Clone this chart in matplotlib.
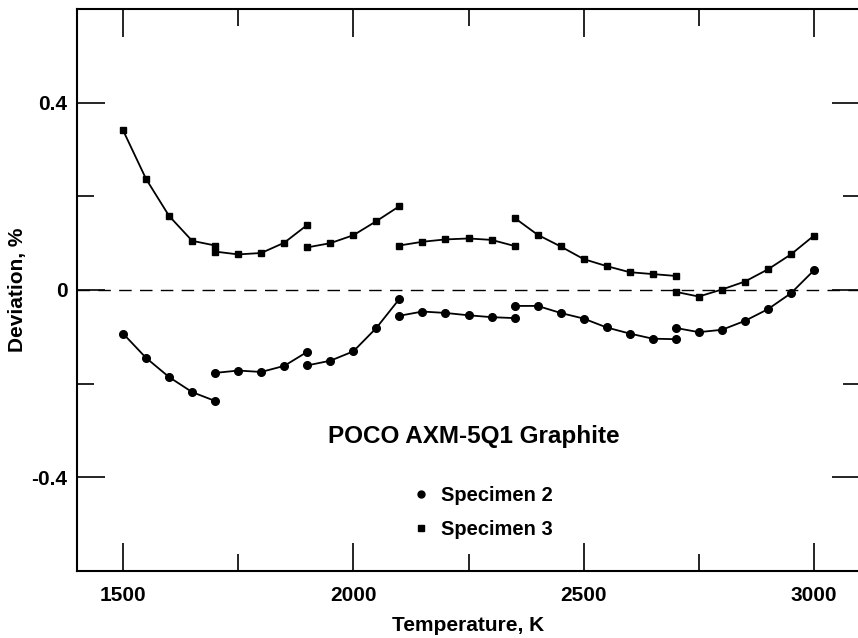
import matplotlib as mpl
import matplotlib.pyplot as plt
from matplotlib.lines import Line2D
from matplotlib.ticker import MultipleLocator

#######
# Data, each run is a separate segment

spec2_T = [
    [1500, 1550, 1600, 1650, 1700],
    [1700, 1750, 1800, 1850, 1900],
    [1900, 1950, 2000, 2050, 2100],
    [2100, 2150, 2200, 2250, 2300, 2350],
    [2350, 2400, 2450, 2500, 2550, 2600, 2650, 2700],
    [2700, 2750, 2800, 2850, 2900, 2950, 3000],
]
spec2_dev = [
    [-0.093, -0.145, -0.186, -0.218, -0.237],
    [-0.177, -0.172, -0.175, -0.162, -0.132],
    [-0.161, -0.151, -0.131, -0.081, -0.019],
    [-0.055, -0.046, -0.049, -0.054, -0.058, -0.060],
    [-0.034, -0.034, -0.049, -0.061, -0.080, -0.093, -0.104, -0.105],
    [-0.081, -0.090, -0.085, -0.066, -0.041, -0.007, 0.042],
]

spec3_T = [
    [1500, 1550, 1600, 1650, 1700],
    [1700, 1750, 1800, 1850, 1900],
    [1900, 1950, 2000, 2050, 2100],
    [2100, 2150, 2200, 2250, 2300, 2350],
    [2350, 2400, 2450, 2500, 2550, 2600, 2650, 2700],
    [2700, 2750, 2800, 2850, 2900, 2950, 3000],
]
spec3_dev = [
    [0.341, 0.237, 0.158, 0.105, 0.095],
    [0.082, 0.076, 0.079, 0.101, 0.139],
    [0.091, 0.100, 0.117, 0.147, 0.179],
    [0.095, 0.103, 0.108, 0.110, 0.107, 0.094],
    [0.154, 0.118, 0.093, 0.066, 0.051, 0.038, 0.034, 0.030],
    [-0.004, -0.014, 0.001, 0.018, 0.044, 0.076, 0.116],
]

xticks = [1500, 2000, 2500, 3000]
xticklabels = ["1500", "2000", "2500", "3000"]
yticks = [-0.4, 0, 0.4]
yticklabels = ["-0.4", "0", "0.4"]

#######
# Plot

mpl.rcParams['font.family'] = ['Liberation Sans', 'DejaVu Sans']
mpl.rcParams['font.weight'] = 'bold'
mpl.rcParams['axes.labelweight'] = 'bold'
mpl.rcParams['axes.unicode_minus'] = False

fig = plt.figure(figsize=(8.58, 6.38), dpi=100)
ax = fig.add_axes([77 / 858, 1 - 571 / 638, (860 - 77) / 858, (571 - 9) / 638])

ax.axhline(0, color='black', lw=1.0, ls=(0, (9, 6)), zorder=1)

for T, d in zip(spec2_T, spec2_dev):
    ax.plot(T, d, color='black', lw=1.3, marker='o', ms=5.5, zorder=3)
for T, d in zip(spec3_T, spec3_dev):
    ax.plot(T, d, color='black', lw=1.3, marker='s', ms=5, zorder=3)

ax.set_xlim(1400, 3100)
ax.set_ylim(-0.6, 0.6)
ax.set_xticks(xticks, xticklabels)
ax.set_yticks(yticks, yticklabels)
ax.xaxis.set_minor_locator(MultipleLocator(250))
ax.yaxis.set_minor_locator(MultipleLocator(0.2))
ax.tick_params(which='both', direction='in', top=True, right=True,
               labelsize=15, width=1.2)
ax.tick_params(which='major', length=20)
ax.tick_params(which='minor', length=12)
ax.tick_params(axis='x', pad=11)
ax.tick_params(axis='y', pad=7)
for s in ax.spines.values():
    s.set_linewidth(1.5)

ax.set_xlabel('Temperature, K', fontsize=15, fontweight='bold', labelpad=8)
ax.set_ylabel('Deviation, %', fontsize=15, fontweight='bold', labelpad=3)

fig.text(474 / 858, 1 - 437 / 638, 'POCO AXM-5Q1 Graphite', fontsize=17.5,
         ha='center', va='center')

handles = [Line2D([], [], color='black', marker='o', ls='none', ms=5),
           Line2D([], [], color='black', marker='s', ls='none', ms=4.5)]
ax.legend(handles, ['Specimen 2', 'Specimen 3'], frameon=False,
          loc='upper left', bbox_to_anchor=(395 / 858, 1 - 468 / 638),
          bbox_transform=fig.transFigure, fontsize=14.5, handlelength=0.8,
          handletextpad=0.6, labelspacing=0.75)

plt.savefig('out.png', dpi=100)
